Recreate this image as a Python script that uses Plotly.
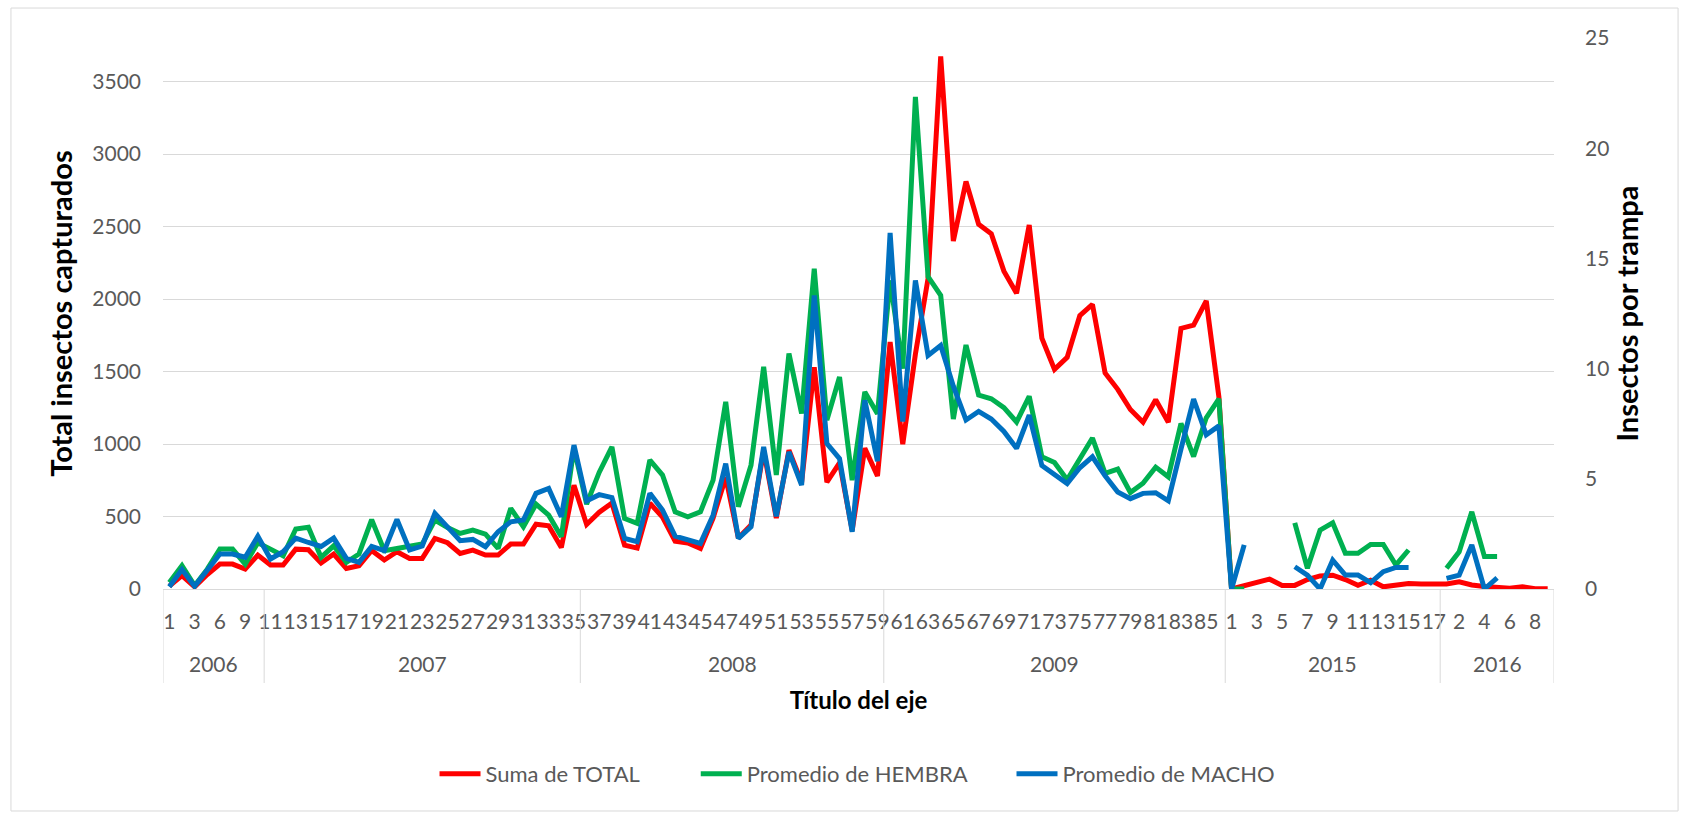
import plotly.graph_objects as go

# ---------------- data ----------------
years = ["2006", "2007", "2008", "2009", "2015", "2016"]
weeks_2006 = [1, 2, 3, 5, 6, 8, 9, 10]
weeks_2007 = list(range(11, 36))
weeks_2008 = list(range(36, 60))
weeks_2009 = list(range(60, 87))
weeks_2015 = list(range(1, 18))
weeks_2016 = list(range(1, 10))
weeks_by_year = [weeks_2006, weeks_2007, weeks_2008, weeks_2009, weeks_2015, weeks_2016]

total = [
    # 2006
    20, 92, 15, 100, 172, 172, 138, 234,
    # 2007
    165, 165, 275, 271, 179, 241, 142, 160, 266, 200, 257, 211, 211, 349, 319,
    245, 268, 234, 234, 310, 310, 447, 436, 287, 716,
    # 2008
    445, 530, 592, 303, 282, 592, 496, 330, 317, 280, 489, 771, 351, 441, 955,
    489, 957, 735, 1529, 737, 870, 405, 971, 780,
    # 2009
    1703, 999, 1620, 2141, 3673, 2400, 2810, 2515, 2450, 2192, 2040, 2510, 1730,
    1515, 1597, 1885, 1963, 1490, 1377, 1238, 1150, 1305, 1150, 1797, 1820, 1987, 1324,
    # 2015
    0, 20, 45, 68, 25, 25, 65, 90, 95, 65, 25, 60, 15, 25, 38, 35, 32,
    # 2016
    35, 50, 28, 18, 15, 5, 15, 2, 2,
]

hembra = [
    # 2006
    0.3, 1.06, 0.15, 0.9, 1.81, 1.81, 1.13, 2.1,
    # 2007
    1.81, 1.51, 2.72, 2.8, 1.44, 1.96, 1.21, 1.59, 3.15, 1.74, 1.84, 1.96, 2.04,
    3.13, 2.79, 2.52, 2.67, 2.49, 1.84, 3.66, 2.82, 3.85, 3.35, 2.37, 6.4,
    # 2008
    3.85, 5.3, 6.45, 3.2, 2.98, 5.85, 5.17, 3.5, 3.28, 3.5, 4.94, 8.49, 3.73,
    5.62, 10.08, 5.17, 10.68, 7.96, 14.53, 7.66, 9.62, 4.94, 8.94, 7.95,
    # 2009
    14.0, 10.0, 22.33, 14.17, 13.32, 7.71, 11.07, 8.8, 8.63, 8.23, 7.58, 8.74,
    6.0, 5.74, 4.96, 5.9, 6.85, 5.25, 5.44, 4.38, 4.8, 5.53, 5.09, 7.51, 6.01, 7.77, 8.63,
    # 2015
    0, 0, None, None, None, 3.0, 0.94, 2.67, 3.0, 1.62, 1.62, 2.02, 2.02, 1.09, 1.77, None, None,
    # 2016
    0.94, 1.69, 3.5, 1.47, 1.47, None, None, None, None,
]

macho = [
    # 2006
    0.1, 0.88, 0.12, 0.83, 1.59, 1.59, 1.44, 2.39,
    # 2007
    1.36, 1.69, 2.31, 2.11, 1.93, 2.31, 1.39, 1.21, 1.93, 1.74, 3.16, 1.77, 1.95,
    3.43, 2.82, 2.19, 2.25, 1.92, 2.6, 3.05, 3.13, 4.34, 4.56, 3.28, 6.53,
    # 2008
    4.0, 4.28, 4.15, 2.3, 2.15, 4.34, 3.58, 2.4, 2.25, 2.07, 3.35, 5.69, 2.3,
    2.82, 6.45, 3.3, 6.22, 4.71, 13.32, 6.6, 5.92, 2.6, 8.56, 5.8,
    # 2009
    16.16, 7.6, 14.0, 10.6, 11.05, 9.2, 7.67, 8.06, 7.71, 7.15, 6.38, 7.89, 5.6,
    5.17, 4.78, 5.5, 6.0, 5.14, 4.4, 4.1, 4.34, 4.37, 4.0, 6.35, 8.62, 7.0, 7.4,
    # 2015
    0, 2.0, None, None, None, 1.01, 0.63, 0, 1.31, 0.63, 0.63, 0.29, 0.79, 0.98, 0.98, None, None,
    # 2016
    0.48, 0.63, 2.0, 0, 0.51, None, None, None, None,
]

left_ticks = [0, 500, 1000, 1500, 2000, 2500, 3000, 3500]
right_ticks = [0, 5, 10, 15, 20, 25]

# ---------------- derived category positions ----------------
week_labels = [str(w) for ws in weeks_by_year for w in ws]
idx = list(range(len(week_labels)))
bounds = [0]
for ws in weeks_by_year:
    bounds.append(bounds[-1] + len(ws))

FONT = "Lato, 'Open Sans', sans-serif"
GREY = "#595959"
GRID = "#d9d9d9"
LW = 5

fig = go.Figure()
fig.add_trace(go.Scatter(x=idx, y=total, name="Suma de TOTAL", mode="lines",
                         line=dict(color="#FF0000", width=LW), yaxis="y", legend="legend"))
fig.add_trace(go.Scatter(x=idx, y=hembra, name="Promedio de HEMBRA", mode="lines",
                         line=dict(color="#00B050", width=LW), yaxis="y2", legend="legend2"))
fig.add_trace(go.Scatter(x=idx, y=macho, name="Promedio de MACHO", mode="lines",
                         line=dict(color="#0070C0", width=LW), yaxis="y2", legend="legend3"))

shapes = []
for b in bounds:
    shapes.append(dict(type="line", xref="x", yref="paper", x0=b - 0.5, x1=b - 0.5,
                       y0=0, y1=-0.1706, line=dict(color=GRID, width=1)))
# chart border
shapes.append(dict(type="rect", xref="paper", yref="paper", x0=-0.1093, x1=1.0892,
                   y0=-0.4029, y1=1.0544, line=dict(color=GRID, width=1)))

annotations = []
for k, yr in enumerate(years):
    mid = (bounds[k] + bounds[k + 1] - 1) / 2
    annotations.append(dict(x=mid, y=-0.136, xref="x", yref="paper", text=yr,
                            showarrow=False, yanchor="middle",
                            font=dict(family=FONT, size=21, color=GREY)))

legend_common = dict(orientation="v", xanchor="left", y=-0.3358, yanchor="middle",
                     itemwidth=41, bgcolor="rgba(0,0,0,0)", borderwidth=0,
                     font=dict(family=FONT, size=22, color=GREY))

fig.update_layout(
    width=1681, height=814,
    margin=dict(l=163, r=127, t=38, b=225),
    paper_bgcolor="white", plot_bgcolor="white",
    font=dict(family=FONT, size=21, color=GREY),
    showlegend=True,
    legend=dict(x=0.1952, **legend_common),
    legend2=dict(x=0.3830, **legend_common),
    legend3=dict(x=0.6100, **legend_common),
    xaxis=dict(range=[-0.5, len(idx) - 0.5], tickmode="array",
               tickvals=idx[::2], ticktext=week_labels[::2], tickangle=0,
               showgrid=False, zeroline=False, showline=True, linecolor=GRID, linewidth=1,
               ticks="", ticklabelstandoff=14, automargin=False,
               tickfont=dict(family=FONT, size=21, color=GREY),
               title=dict(text="<b>Título del eje</b>", standoff=59,
                          font=dict(family=FONT, size=24, color="black"))),
    yaxis=dict(range=[0, 3800], tickmode="array", tickvals=left_ticks,
               showgrid=True, gridcolor=GRID, gridwidth=1, zeroline=False, showline=False,
               ticks="", ticklabelstandoff=21, automargin=False,
               tickfont=dict(family=FONT, size=21, color=GREY),
               title=dict(text="<b>Total insectos capturados</b>", standoff=11,
                          font=dict(family=FONT, size=29, color="black"))),
    yaxis2=dict(range=[0, 25], tickmode="array", tickvals=right_ticks,
                overlaying="y", side="right", showgrid=False, zeroline=False,
                showline=False, ticks="", ticklabelstandoff=30, automargin=False,
                tickfont=dict(family=FONT, size=21, color=GREY),
                title=dict(text="<b>Insectos por trampa</b>", standoff=9,
                           font=dict(family=FONT, size=29, color="black"))),
    shapes=shapes,
    annotations=annotations,
)

fig.write_html("out.html", config={"displayModeBar": False},
               post_script="document.body.style.margin='0';")
